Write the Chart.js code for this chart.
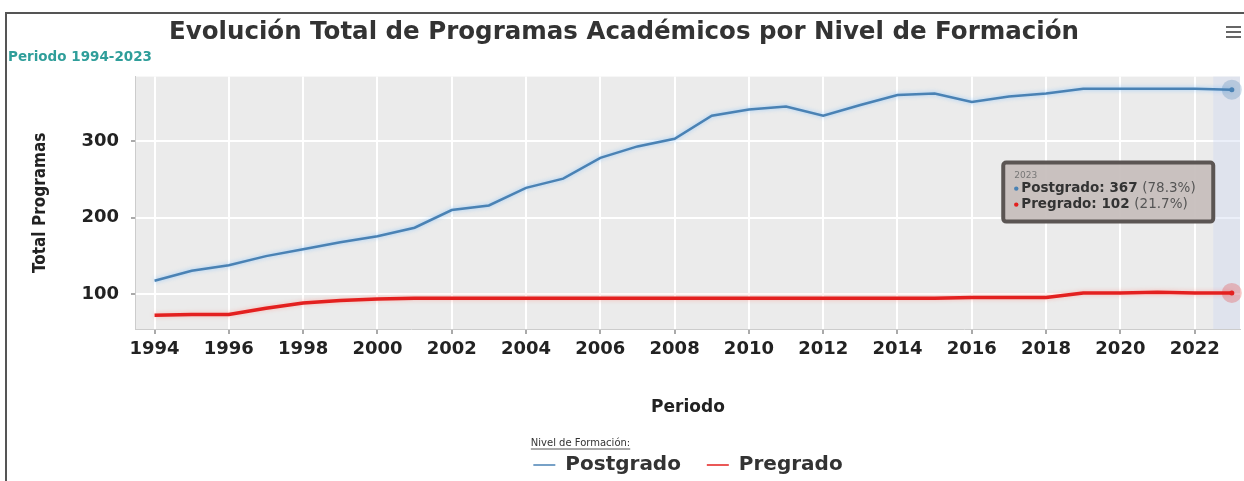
<!DOCTYPE html>
<html>
<head>
<meta charset="utf-8">
<script src="https://cdn.jsdelivr.net/npm/chart.js@4.4.1/dist/chart.umd.min.js"></script>
<style>
  html, body { margin: 0; padding: 0; background: #fff; }
  #wrap { position: relative; width: 1244px; height: 481px; overflow: hidden; }
  #marco { position: absolute; left: 5px; top: 12px; width: 1400px; height: 600px;
           border-left: 2px solid #555; border-top: 2px solid #555; pointer-events: none; }
</style>
</head>
<body>
<div id="wrap">
  <canvas id="grafico" width="1244" height="481"></canvas>
  <div id="marco"></div>
</div>
<script>
// datos
const anios = [1994, 1995, 1996, 1997, 1998, 1999, 2000, 2001, 2002, 2003,
               2004, 2005, 2006, 2007, 2008, 2009, 2010, 2011, 2012, 2013,
               2014, 2015, 2016, 2017, 2018, 2019, 2020, 2021, 2022, 2023];
const postgrado = [118, 131, 138, 150, 159, 168, 176, 187, 210, 216,
                   239, 251, 278, 293, 303, 333, 341, 345, 333, 347,
                   360, 362, 351, 358, 362, 368, 368, 368, 368, 367];
const pregrado = [73, 74, 74, 82, 89, 92, 94, 95, 95, 95,
                  95, 95, 95, 95, 95, 95, 95, 95, 95, 95,
                  95, 95, 96, 96, 96, 102, 102, 103, 102, 102];
const ticksX = [1994, 1996, 1998, 2000, 2002, 2004, 2006, 2008, 2010,
                2012, 2014, 2016, 2018, 2020, 2022];
const ticksY = [100, 200, 300];
const nombres = ['Postgrado', 'Pregrado'];
const colores = ['#4a82b4', '#e3201f'];
const halos = ['rgba(74,130,180,0.28)', 'rgba(227,32,31,0.25)'];

const ultimo = anios.length - 1;
const fuente = 'DejaVu Sans';
const tituloLeyenda = 'Nivel de Formación:';

function puntos(valores) {
  return anios.map((a, i) => ({ x: a, y: valores[i] }));
}

const extras = {
  id: 'extras',
  beforeDraw(chart) {
    const { ctx, chartArea: ca } = chart;
    ctx.save();
    ctx.fillStyle = '#ebebeb';
    ctx.fillRect(ca.left, ca.top, ca.right - ca.left, ca.bottom - ca.top);
    ctx.restore();
  },
  beforeDatasetsDraw(chart) {
    // banda del crosshair en 2023
    const { ctx, chartArea: ca, scales } = chart;
    const x0 = scales.x.getPixelForValue(anios[ultimo] - 0.5);
    ctx.save();
    ctx.fillStyle = 'rgba(205,215,240,0.4)';
    ctx.fillRect(x0, ca.top, ca.right - x0, ca.bottom - ca.top);
    ctx.restore();
  },
  beforeDatasetDraw(chart, args) {
    const ctx = chart.ctx;
    ctx.save();
    ctx.shadowColor = args.index === 0 ? 'rgba(120,190,255,0.7)' : 'rgba(255,150,140,0.6)';
    ctx.shadowBlur = 4;
  },
  afterDatasetDraw(chart) {
    chart.ctx.restore();
  },
  afterDatasetsDraw(chart) {
    const { ctx, scales, chartArea: ca } = chart;
    const valores = [postgrado, pregrado];
    const x = scales.x.getPixelForValue(anios[ultimo]);
    ctx.save();
    valores.forEach((v, i) => {
      const y = scales.y.getPixelForValue(v[ultimo]);
      ctx.beginPath();
      ctx.arc(x, y, 10, 0, Math.PI * 2);
      ctx.fillStyle = halos[i];
      ctx.fill();
      ctx.beginPath();
      ctx.arc(x, y, 2.5, 0, Math.PI * 2);
      ctx.fillStyle = colores[i];
      ctx.fill();
    });

    // tooltip
    const total = postgrado[ultimo] + pregrado[ultimo];
    const w = 210, h = 59;
    const bx = scales.x.getPixelForValue(anios[ultimo] - 0.5) - w;
    const by = ca.top + 86;
    ctx.beginPath();
    ctx.roundRect(bx, by, w, h, 3);
    ctx.fillStyle = 'rgba(198,189,187,0.92)';
    ctx.fill();
    ctx.lineWidth = 4;
    ctx.strokeStyle = '#5b5553';
    ctx.stroke();
    ctx.textBaseline = 'middle';
    ctx.textAlign = 'left';
    ctx.fillStyle = '#777';
    ctx.font = '9px ' + fuente;
    ctx.fillText(String(anios[ultimo]), bx + 11, by + 13);
    valores.forEach((v, i) => {
      const ly = by + 26 + i * 16;
      ctx.fillStyle = colores[i];
      ctx.beginPath();
      ctx.arc(bx + 13, ly, 2.2, 0, Math.PI * 2);
      ctx.fill();
      const pct = (v[ultimo] / total * 100).toFixed(1);
      const fuerte = nombres[i] + ': ' + v[ultimo];
      ctx.font = 'bold 13.5px ' + fuente;
      ctx.fillStyle = '#333';
      ctx.fillText(fuerte, bx + 18, ly);
      const ancho = ctx.measureText(fuerte + ' ').width;
      ctx.font = '13.5px ' + fuente;
      ctx.fillStyle = '#555';
      ctx.fillText('(' + pct + '%)', bx + 18 + ancho, ly);
    });
    ctx.restore();
  },
  afterDraw(chart) {
    const ctx = chart.ctx;
    ctx.save();
    // menu
    ctx.strokeStyle = '#666';
    ctx.lineWidth = 2;
    [27, 32, 37].forEach(y => {
      ctx.beginPath();
      ctx.moveTo(1226, y);
      ctx.lineTo(1241, y);
      ctx.stroke();
    });
    // subrayado del titulo de la leyenda
    const lg = chart.legend;
    if (lg && lg.legendHitBoxes.length) {
      const x0 = lg.legendHitBoxes[0].left - lg.options.labels.padding / 2;
      ctx.font = '10px ' + fuente;
      const wt = ctx.measureText(tituloLeyenda).width;
      const yl = lg.top + lg.options.title.padding.top + 11;
      ctx.strokeStyle = '#555';
      ctx.lineWidth = 1;
      ctx.beginPath();
      ctx.moveTo(x0, yl);
      ctx.lineTo(x0 + wt, yl);
      ctx.stroke();
    }
    ctx.restore();
  }
};

new Chart(document.getElementById('grafico'), {
  type: 'line',
  data: {
    datasets: [
      { label: nombres[0], data: puntos(postgrado), borderColor: colores[0],
        backgroundColor: colores[0], borderWidth: 2.5, pointRadius: 0, tension: 0 },
      { label: nombres[1], data: puntos(pregrado), borderColor: colores[1],
        backgroundColor: colores[1], borderWidth: 3.5, pointRadius: 0, tension: 0 }
    ]
  },
  options: {
    responsive: false,
    animation: false,
    devicePixelRatio: 1,
    events: [],
    layout: { padding: { left: 8, right: 4, top: 0, bottom: -4 } },
    plugins: {
      title: {
        display: true,
        text: 'Evolución Total de Programas Académicos por Nivel de Formación',
        color: '#333',
        font: { family: fuente, size: 24.5, weight: 'bold' },
        padding: { top: 18, bottom: 0 }
      },
      subtitle: {
        display: true,
        text: 'Periodo 1994-2023',
        align: 'start',
        color: '#2f9e9a',
        font: { family: fuente, size: 13.5, weight: 'bold' },
        padding: { top: 2, bottom: 11 }
      },
      legend: {
        position: 'bottom',
        fullSize: false,
        title: {
          display: true,
          text: tituloLeyenda,
          position: 'start',
          color: '#333',
          font: { family: fuente, size: 10 },
          padding: { top: 6, bottom: 0 }
        },
        labels: {
          usePointStyle: true,
          pointStyleWidth: 22,
          color: '#222',
          padding: 5,
          font: { family: fuente, size: 20, weight: 'bold' },
          generateLabels(chart) {
            return chart.data.datasets.map((d, i) => ({
              text: i === 0 ? d.label + '   ' : d.label,
              datasetIndex: i, pointStyle: 'line',
              strokeStyle: colores[i], fillStyle: colores[i], lineWidth: 1.5,
              hidden: false
            }));
          }
        }
      },
      tooltip: { enabled: false }
    },
    scales: {
      x: {
        type: 'linear',
        min: 1993.5,
        max: 2023.22,
        afterBuildTicks(axis) { axis.ticks = ticksX.map(v => ({ value: v })); },
        grid: { color: '#ffffff', lineWidth: 2, tickColor: '#aaa', tickLength: 5 },
        border: { color: '#cccccc', width: 1 },
        ticks: {
          color: '#222', padding: 5, maxRotation: 0,
          font: { family: fuente, size: 18, weight: 'bold' },
          callback: v => String(v)
        },
        title: {
          display: true, text: 'Periodo', color: '#222',
          font: { family: fuente, size: 17, weight: 'bold' },
          padding: { top: 32, bottom: 14 }
        }
      },
      y: {
        min: 55,
        max: 384,
        afterBuildTicks(axis) { axis.ticks = ticksY.map(v => ({ value: v })); },
        grid: { color: '#ffffff', lineWidth: 2, tickColor: '#aaa', tickLength: 5 },
        border: { color: '#cccccc', width: 1 },
        ticks: {
          color: '#222', padding: 12,
          font: { family: fuente, size: 18, weight: 'bold' }
        },
        title: {
          display: true, text: 'Total Programas', color: '#222',
          font: { family: 'DejaVu Sans Condensed', size: 17, weight: 'bold' },
          padding: { top: 22, bottom: 19 }
        }
      }
    }
  },
  plugins: [extras]
});
</script>
</body>
</html>
